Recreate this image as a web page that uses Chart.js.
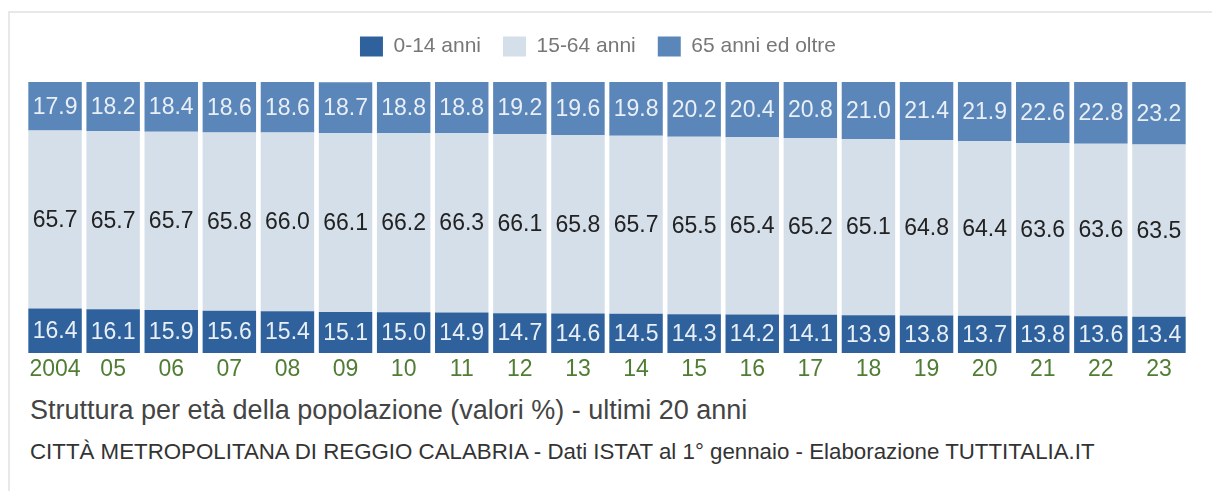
<!DOCTYPE html>
<html>
<head>
<meta charset="utf-8">
<script src="https://cdn.jsdelivr.net/npm/chart.js@4"></script>
<style>
  html, body { margin: 0; padding: 0; background: #fff; }
  body { width: 1212px; height: 491px; position: relative; overflow: hidden;
         font-family: "Liberation Sans", Arial, Helvetica, sans-serif; }
  .frame { position: absolute; left: 8px; top: 11px; right: -2px; bottom: -2px;
           border-left: 2px solid #e8e8e8; border-top: 2px solid #e8e8e8; }
  .chart-wrap { position: absolute; left: 0; top: 0; width: 1212px; height: 390px; }
  .title { position: absolute; left: 30px; top: 395px; font-size: 27px; color: #444; white-space: nowrap; }
  .source { position: absolute; left: 30px; top: 439px; font-size: 22.3px; color: #333; white-space: nowrap; }
</style>
</head>
<body>
<div class="frame"></div>
<div class="chart-wrap"><canvas id="ageChart"></canvas></div>
<div class="title">Struttura per età della popolazione (valori %) - ultimi 20 anni</div>
<div class="source">CITTÀ METROPOLITANA DI REGGIO CALABRIA - Dati ISTAT al 1° gennaio - Elaborazione TUTTITALIA.IT</div>
<script>
const years = ['2004', '05', '06', '07', '08', '09', '10', '11', '12', '13',
  '14', '15', '16', '17', '18', '19', '20', '21', '22', '23'];
const young = [16.4, 16.1, 15.9, 15.6, 15.4, 15.1, 15.0, 14.9, 14.7, 14.6,
  14.5, 14.3, 14.2, 14.1, 13.9, 13.8, 13.7, 13.8, 13.6, 13.4];
const working = [65.7, 65.7, 65.7, 65.8, 66.0, 66.1, 66.2, 66.3, 66.1, 65.8,
  65.7, 65.5, 65.4, 65.2, 65.1, 64.8, 64.4, 63.6, 63.6, 63.5];
const elderly = [17.9, 18.2, 18.4, 18.6, 18.6, 18.7, 18.8, 18.8, 19.2, 19.6,
  19.8, 20.2, 20.4, 20.8, 21.0, 21.4, 21.9, 22.6, 22.8, 23.2];

const FONT = '"Liberation Sans", Arial, Helvetica, sans-serif';

// legend takes the space above the bars; nudged a bit left of centre like the original
const legendSpacer = {
  id: 'legendSpacer',
  beforeInit(chart) {
    const fit = chart.legend.fit;
    chart.legend.fit = function () {
      fit.bind(chart.legend)();
      this.height = 68;
    };
  },
  afterLayout(chart) {
    chart.legend.left -= 9;
    chart.legend.right -= 9;
  }
};

const barValues = {
  id: 'barValues',
  afterDatasetsDraw(chart) {
    const ctx = chart.ctx;
    ctx.save();
    ctx.font = '23px ' + FONT;
    ctx.textAlign = 'center';
    ctx.textBaseline = 'middle';
    chart.data.datasets.forEach((ds, i) => {
      const meta = chart.getDatasetMeta(i);
      ctx.fillStyle = ds.labelColor;
      meta.data.forEach((bar, j) => {
        const { x, y, base } = bar.getProps(['x', 'y', 'base'], true);
        ctx.fillText(ds.data[j].toFixed(1), x, (y + base) / 2 + 1);
      });
    });
    ctx.restore();
  }
};

new Chart(document.getElementById('ageChart'), {
  type: 'bar',
  data: {
    labels: years,
    datasets: [
      { label: '0-14 anni', data: young, backgroundColor: '#2f629c', labelColor: '#e9eff6' },
      { label: '15-64 anni', data: working, backgroundColor: '#d5dfea', labelColor: '#222' },
      { label: '65 anni ed oltre', data: elderly, backgroundColor: '#5b86b9', labelColor: '#e9eff6' },
    ],
  },
  options: {
    responsive: true,
    maintainAspectRatio: false,
    animation: false,
    layout: { padding: { top: 14, left: 26, right: 24, bottom: 7 } },
    datasets: { bar: { barPercentage: 0.92, categoryPercentage: 1.0, borderWidth: 0 } },
    plugins: {
      legend: {
        position: 'top',
        labels: {
          boxWidth: 23,
          boxHeight: 20,
          padding: 22,
          color: '#777',
          font: { family: FONT, size: 21 },
        },
      },
      tooltip: { enabled: false },
    },
    scales: {
      x: {
        stacked: true,
        grid: { display: false, drawTicks: false },
        border: { display: false },
        ticks: { color: '#4f7d33', font: { family: FONT, size: 23 }, padding: 3, maxRotation: 0, autoSkip: false },
        afterFit(scale) { scale.height = 30; },
      },
      y: {
        stacked: true,
        display: false,
        min: 0,
        max: 100,
      },
    },
  },
  plugins: [legendSpacer, barValues],
});
</script>
</body>
</html>
